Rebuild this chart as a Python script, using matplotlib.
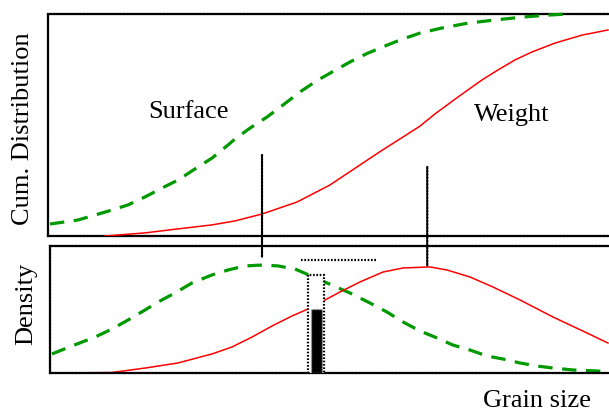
import matplotlib
matplotlib.use("Agg")
import matplotlib.pyplot as plt
from matplotlib.patches import Rectangle, ConnectionPatch

plt.rcParams['font.family'] = ['Liberation Serif', 'DejaVu Serif']

# ---- data (grain size in arbitrary units 0..10) ----
surf_cum_x = [0.036, 0.535, 1.141, 1.426, 1.729, 2.032, 2.317, 2.620, 2.923, 3.209, 3.333, 3.601, 3.904,
              4.189, 4.492, 4.795, 5.080, 5.383, 5.686, 5.971, 6.275, 6.631, 7.023, 7.487, 7.968, 8.449,
              8.913, 9.251]
surf_cum_y = [0.054, 0.072, 0.117, 0.140, 0.176, 0.216, 0.252, 0.302, 0.351, 0.410, 0.437, 0.486, 0.536,
              0.590, 0.649, 0.700, 0.741, 0.784, 0.822, 0.852, 0.883, 0.914, 0.937, 0.959, 0.973, 0.986,
              0.995, 1.0]

wt_cum_x = [1.016, 1.729, 2.317, 2.923, 3.333, 3.815, 4.439, 5.027, 5.508, 5.918, 6.328, 6.631, 6.898,
            7.308, 7.736, 8.021, 8.324, 8.627, 9.037, 9.519, 9.982]
wt_cum_y = [0.0, 0.014, 0.032, 0.050, 0.068, 0.099, 0.153, 0.230, 0.311, 0.380, 0.446, 0.495, 0.550,
            0.626, 0.703, 0.748, 0.793, 0.829, 0.869, 0.905, 0.928]

surf_den_x = [0.071, 0.428, 0.838, 1.141, 1.426, 1.729, 1.961, 2.264, 2.567, 2.923, 3.209, 3.512, 3.815,
              4.100, 4.403, 4.581, 4.973, 5.383, 5.740, 6.043, 6.328, 6.631, 6.934, 7.219, 7.522, 7.825,
              8.111, 8.414, 8.717, 9.002, 9.358, 9.786, 9.982]
surf_den_y = [0.150, 0.213, 0.283, 0.346, 0.417, 0.496, 0.559, 0.630, 0.709, 0.772, 0.811, 0.843, 0.850,
              0.843, 0.819, 0.785, 0.709, 0.630, 0.551, 0.480, 0.402, 0.331, 0.276, 0.220, 0.181, 0.134,
              0.110, 0.079, 0.055, 0.039, 0.024, 0.016, 0.008]

wt_den_x = [0.27, 1.141, 1.729, 2.317, 2.923, 3.280, 3.636, 3.993, 4.349, 4.635, 4.938, 5.205, 5.561,
            5.971, 6.328, 6.809, 7.112, 7.522, 7.932, 8.414, 9.002, 9.608, 9.982]
wt_den_y = [0.0, 0.004, 0.039, 0.079, 0.150, 0.205, 0.283, 0.370, 0.449, 0.504, 0.575, 0.638, 0.717,
            0.795, 0.827, 0.835, 0.811, 0.756, 0.677, 0.575, 0.441, 0.315, 0.236]

# markers: modes and their cumulative levels
mode_x = [3.815, 6.76]
mode_cum = [0.365, 0.311]
mode_den = [0.906, 0.835]

# range indicator and bar
range_x = [4.51, 5.865]
range_y = 0.890
box_x = [4.63, 4.92]
box_top = 0.772
bar_x = [4.69, 4.88]
bar_top = 0.504

W, H = 609, 411
fig = plt.figure(figsize=(W / 100, H / 100), dpi=100)

def fr(x0, y0, x1, y1):
    return [x0 / W, 1 - y1 / H, (x1 - x0) / W, (y1 - y0) / H]

ax1 = fig.add_axes(fr(48, 14, 609, 236))
ax2 = fig.add_axes(fr(50, 246, 609, 373))

ax1.set_xlim(0, 10)
ax1.set_ylim(0, 1)
ax2.set_xlim(2 / 56.1, 10)
ax2.set_ylim(0, 1)

green = '#009900'
red = '#ff0000'
dash = (0, (4.5, 3.0))
dots = (0, (0.75, 0.75))

for ax in (ax1, ax2):
    ax.set_xticks([])
    ax.set_yticks([])
    for side in ('left', 'top', 'bottom'):
        ax.spines[side].set_linestyle(dots)
        ax.spines[side].set_linewidth(1.6)
        ax.spines[side].set_color('black')
    ax.spines['right'].set_visible(False)

ax1.plot(surf_cum_x, surf_cum_y, color=green, lw=2.3, linestyle=dash, clip_on=False, zorder=3)
ax1.plot(wt_cum_x, wt_cum_y, color=red, lw=1.1, zorder=3)

ax2.plot(surf_den_x, surf_den_y, color=green, lw=2.3, linestyle=dash, zorder=2)
ax2.plot(wt_den_x, wt_den_y, color=red, lw=1.1, zorder=2)

for mx, mc, md in zip(mode_x, mode_cum, mode_den):
    cp = ConnectionPatch(xyA=(mx, mc), coordsA=ax1.transData,
                         xyB=(mx, md), coordsB=ax2.transData,
                         color='black', lw=1.6, linestyle=dots)
    fig.add_artist(cp)

ax2.plot(range_x, [range_y, range_y], color='black', lw=1.6, linestyle=dots, zorder=4)

ax2.add_patch(Rectangle((box_x[0], 0), box_x[1] - box_x[0], box_top,
                        facecolor='white', edgecolor='black', lw=1.6,
                        linestyle=dots, zorder=5))
ax2.add_patch(Rectangle((bar_x[0], 0), bar_x[1] - bar_x[0], bar_top,
                        facecolor='black', edgecolor='#aaaaaa', lw=1.0,
                        linestyle=(0, (0.8, 0.8)), zorder=6))

fs = 19
fig.text(188 / W, 1 - 112 / H, 'Surface', ha='center', va='center', fontsize=fs)
fig.text(512 / W, 1 - 115 / H, 'Weight', ha='center', va='center', fontsize=fs)
fig.text(23 / W, 1 - 129 / H, 'Cum. Distribution', ha='center', va='center', rotation=90, fontsize=fs)
fig.text(26 / W, 1 - 304 / H, 'Density', ha='center', va='center', rotation=90, fontsize=fs)
fig.text(537 / W, 1 - 401 / H, 'Grain size', ha='center', va='center', fontsize=fs)

fig.savefig('out.png', dpi=100)
